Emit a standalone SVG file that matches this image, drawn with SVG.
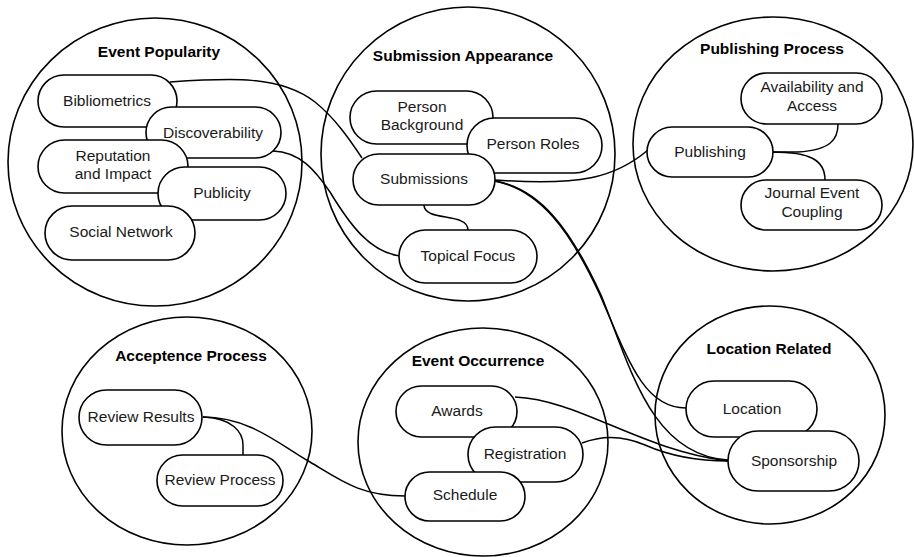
<svg xmlns="http://www.w3.org/2000/svg" width="914" height="557" viewBox="0 0 914 557">
<style>
.grp{fill:none;stroke:#000;stroke-width:1.6}
.pill{fill:#fff;stroke:#000;stroke-width:1.6}
.t{font-family:"Liberation Sans",Arial,sans-serif;font-size:15.5px;fill:#1a1a1a;text-anchor:middle}
.h{font-family:"Liberation Sans",Arial,sans-serif;font-size:15.5px;font-weight:bold;fill:#000;text-anchor:middle}
.c{fill:none;stroke:#000;stroke-width:1.5}
</style>
<rect width="914" height="557" fill="#fff"/>
<g id="event-popularity">
<ellipse class="grp" cx="155" cy="162" rx="147" ry="144"/>
<text class="h" x="159" y="57">Event Popularity</text>
</g>
<g id="submission-appearance">
<ellipse class="grp" cx="468" cy="154" rx="147" ry="147"/>
<text class="h" x="463" y="61">Submission Appearance</text>
</g>
<g id="publishing-process">
<ellipse class="grp" cx="773" cy="144" rx="140" ry="127"/>
<text class="h" x="772" y="54">Publishing Process</text>
</g>
<g id="acceptence-process">
<ellipse class="grp" cx="187" cy="431" rx="125" ry="114"/>
<text class="h" x="191" y="361">Acceptence Process</text>
</g>
<g id="event-occurrence">
<ellipse class="grp" cx="483" cy="442" rx="125" ry="114"/>
<text class="h" x="478" y="366">Event Occurrence</text>
</g>
<g id="location-related">
<ellipse class="grp" cx="770" cy="415" rx="115" ry="109"/>
<text class="h" x="769" y="354">Location Related</text>
</g>
<g id="connectors">
<path class="c" d="M170,82 C230,78 280,75 315,102 C335,118 350,140 362,158"/>
<path class="c" d="M273,151 C300,152 315,170 330,192 C350,225 370,252 400,256"/>
<path class="c" d="M424,205 C424,222 468,212 468,230"/>
<path class="c" d="M495,180 C580,186 615,178 648,150"/>
<path class="c" d="M495,181 C540,190 570,230 600,295 C630,365 645,408 686,408"/>
<path class="c" d="M495,181 C541,189 571,230 601,295 C630,365 650,455 728,460"/>
<path class="c" d="M515,397 C580,400 640,450 728,461"/>
<path class="c" d="M582,443 C600,436 620,434 645,445 C670,456 700,461 728,461"/>
<path class="c" d="M203,417 C250,417 280,445 310,462 C340,480 360,496 405,496"/>
<path class="c" d="M203,417 C232,418 243,432 243,445 L243,455"/>
<path class="c" d="M772,152 L798,152 C830,150 838,140 838,124"/>
<path class="c" d="M772,152 C810,152 825,160 825,180"/>
</g>
<g id="bibliometrics"><rect class="pill" x="38" y="75" width="139" height="52" rx="26"/><text class="t" x="107" y="106">Bibliometrics</text></g>
<g id="discoverability"><rect class="pill" x="146" y="107" width="135" height="51" rx="25.5"/><text class="t" x="213" y="138">Discoverability</text></g>
<g id="reputation-and-impact"><rect class="pill" x="38" y="140" width="150" height="53" rx="26.5"/><text class="t" x="113" y="161">Reputation</text><text class="t" x="113" y="179">and Impact</text></g>
<g id="publicity"><rect class="pill" x="158" y="167" width="128" height="53" rx="26.5"/><text class="t" x="222" y="198">Publicity</text></g>
<g id="social-network"><rect class="pill" x="45" y="206" width="150" height="54" rx="27"/><text class="t" x="121" y="237">Social Network</text></g>
<g id="person-background"><rect class="pill" x="350" y="91" width="143" height="53" rx="26.5"/><text class="t" x="422" y="112">Person</text><text class="t" x="422" y="130">Background</text></g>
<g id="person-roles"><rect class="pill" x="467" y="118" width="135" height="55" rx="27.5"/><text class="t" x="533" y="149">Person Roles</text></g>
<g id="submissions"><rect class="pill" x="353" y="154" width="142" height="51" rx="25.5"/><text class="t" x="424" y="184">Submissions</text></g>
<g id="topical-focus"><rect class="pill" x="399" y="230" width="138" height="53" rx="26.5"/><text class="t" x="468" y="261">Topical Focus</text></g>
<g id="availability-and-access"><rect class="pill" x="741" y="73" width="141" height="51" rx="25.5"/><text class="t" x="812" y="92">Availability and</text><text class="t" x="812" y="111">Access</text></g>
<g id="publishing"><rect class="pill" x="647" y="127" width="126" height="50" rx="25"/><text class="t" x="710" y="157">Publishing</text></g>
<g id="journal-event-coupling"><rect class="pill" x="741" y="180" width="141" height="50" rx="25"/><text class="t" x="812" y="198">Journal Event</text><text class="t" x="812" y="217">Coupling</text></g>
<g id="review-results"><rect class="pill" x="79" y="390" width="123" height="55" rx="27.5"/><text class="t" x="141" y="422">Review Results</text></g>
<g id="review-process"><rect class="pill" x="157" y="455" width="126" height="51" rx="25.5"/><text class="t" x="220" y="485">Review Process</text></g>
<g id="awards"><rect class="pill" x="396" y="386" width="121" height="51" rx="25.5"/><text class="t" x="457" y="416">Awards</text></g>
<g id="registration"><rect class="pill" x="468" y="427" width="115" height="55" rx="27.5"/><text class="t" x="525" y="459">Registration</text></g>
<g id="schedule"><rect class="pill" x="405" y="472" width="120" height="49" rx="24.5"/><text class="t" x="465" y="500">Schedule</text></g>
<g id="location"><rect class="pill" x="686" y="381" width="131" height="56" rx="28"/><text class="t" x="752" y="414">Location</text></g>
<g id="sponsorship"><rect class="pill" x="728" y="431" width="131" height="60" rx="30"/><text class="t" x="794" y="466">Sponsorship</text></g>
</svg>
